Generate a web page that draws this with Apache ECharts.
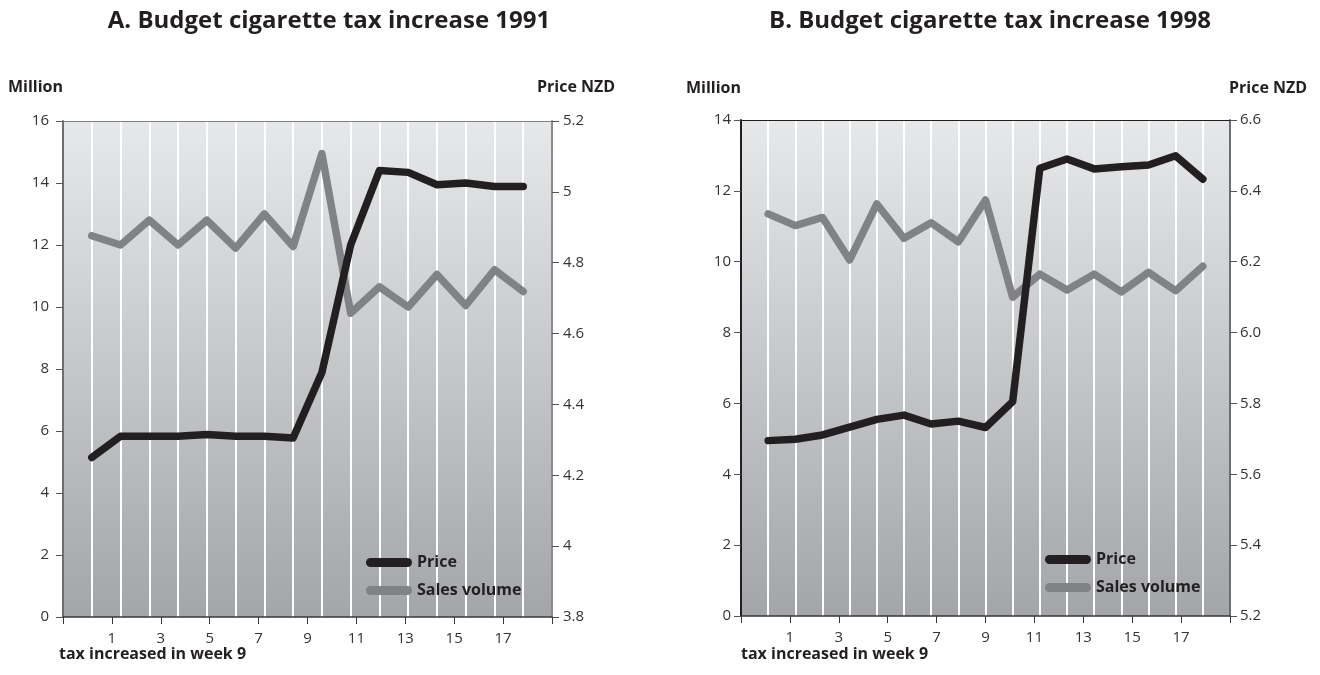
<!DOCTYPE html>
<html>
<head>
<meta charset="utf-8">
<script src="https://cdn.jsdelivr.net/npm/echarts@6/dist/echarts.min.js"></script>
<style>
html,body{margin:0;padding:0;background:#fff;}
#main{width:1320px;height:675px;}
</style>
</head>
<body>
<div id="main"></div>
<script>
// ---- Data ----
// Panel A: 1991 (16 weekly observations, plotted on the vertical grid lines)
const pointsA = [1,2,3,4,5,6,7,8,9,10,11,12,13,14,15,16];
const salesA  = [12.3, 12.0, 12.8, 12.0, 12.8, 11.9, 13.0, 11.95, 14.95, 9.8, 10.65, 10.0, 11.05, 10.05, 11.2, 10.5];
const priceA  = [4.25, 4.31, 4.31, 4.31, 4.315, 4.31, 4.31, 4.305, 4.49, 4.85, 5.06, 5.055, 5.02, 5.025, 5.015, 5.015];

// Panel B: 1998 (17 weekly observations)
const pointsB = [1,2,3,4,5,6,7,8,9,10,11,12,13,14,15,16,17];
const salesB  = [11.35, 11.02, 11.25, 10.05, 11.63, 10.66, 11.1, 10.56, 11.74, 9.0, 9.65, 9.2, 9.65, 9.15, 9.7, 9.18, 9.87];
const priceB  = [5.695, 5.699, 5.711, 5.733, 5.755, 5.767, 5.742, 5.75, 5.732, 5.805, 6.464, 6.49, 6.462, 6.468, 6.473, 6.499, 6.433];

// Week axis tick labels (odd weeks)
const weekTickLabels = [1,3,5,7,9,11,13,15,17];

const titleA = 'A. Budget cigarette tax increase 1991';
const titleB = 'B. Budget cigarette tax increase 1998';
const leftAxisName = 'Million';
const rightAxisName = 'Price NZD';
const footNote = 'tax increased in week 9';
const seriesNames = ['Price', 'Sales volume'];

// ---- Chart ----
const FONT = '"Open Sans", "Noto Sans", sans-serif';
const TXT = '#231f20';
const chart = echarts.init(document.getElementById('main'));

function pairs(xs, ys){ return xs.map((x,i)=>[x, ys[i]]); }
function bg(){
  return new echarts.graphic.LinearGradient(0,0,0,1,[
    {offset:0,color:'#e7e8ea'},{offset:1,color:'#a4a5a8'}]);
}
const pill = 'path://M4.5 0H41.5A4.5 4.5 0 0 1 41.5 9H4.5A4.5 4.5 0 0 1 4.5 0Z';

function weekAxis(gridIndex){
  return {
    gridIndex, type:'value', position:'bottom', min:-1, max:19, interval:2,
    axisLine:{show:true, onZero:false, lineStyle:{color:'#3a3a3a', width:1.5}},
    axisTick:{show:true, length:7, lineStyle:{color:'#3a3a3a', width:1}},
    axisLabel:{margin:14, fontSize:15, color:'#333', fontFamily:FONT,
      formatter:v => weekTickLabels.indexOf(Math.round(v)) >= 0 ? String(Math.round(v)) : ''},
    splitLine:{show:false}
  };
}
function bandAxis(gridIndex, n, topColor){
  return {
    gridIndex, type:'value', position:'top', min:0, max:n, interval:1,
    axisLine:{show:true, onZero:false, lineStyle:{color:topColor, width:1}},
    axisTick:{show:false}, axisLabel:{show:false},
    splitLine:{show:true, showMinLine:false, showMaxLine:false, lineStyle:{color:'#ffffff', width:2}}
  };
}
function yAx(gridIndex, pos, min, max, interval, lineColor, margin, fmt){
  return {
    gridIndex, type:'value', position:pos, min, max, interval,
    axisLine:{show:true, onZero:false, lineStyle:{color:lineColor, width:2}},
    axisTick:{show:true, length:7, lineStyle:{color:'#555', width:1}},
    axisLabel:{margin, fontSize:15, color:'#333', fontFamily:FONT, formatter:fmt},
    splitLine:{show:false}
  };
}
function lineSeries(name, xi, yi, data, color){
  return {
    name, type:'line', xAxisIndex:xi, yAxisIndex:yi, data,
    symbol:'none', color, z:name==='Price'?4:3,
    lineStyle:{color, width:7.5, cap:'round', join:'round'},
    itemStyle:{color}
  };
}
function legendAt(left, top){
  return {
    data:seriesNames, orient:'vertical', left, top, icon:pill,
    itemWidth:46, itemHeight:9, itemGap:9, selectedMode:false,
    itemStyle:{borderWidth:0}, lineStyle:{width:0},
    textStyle:{fontSize:16, fontWeight:'bold', color:TXT, fontFamily:FONT, lineHeight:19}
  };
}
function txt(text, x, y, size, align){
  return {type:'text', x, y, silent:true, style:{
    text, fill:TXT, font:'bold '+size+'px '+FONT,
    textAlign:align, textVerticalAlign:'middle', align, verticalAlign:'middle'}};
}

const option = {
  animation:false,
  backgroundColor:'#ffffff',
  grid:[
    {left:63, top:121, width:489, height:496, show:true, backgroundColor:bg(), borderWidth:0},
    {left:741, top:120, width:489, height:496, show:true, backgroundColor:bg(), borderWidth:0}
  ],
  xAxis:[
    weekAxis(0),
    bandAxis(0, pointsA.length + 1, '#7f8083'),
    weekAxis(1),
    bandAxis(1, pointsB.length + 1, '#231f20')
  ],
  yAxis:[
    yAx(0,'left',0,16,2,'#6d6e71',14, v=>String(v)),
    yAx(0,'right',3.8,5.2,0.2,'#8a8b8e',11, v=>String(parseFloat(v.toFixed(1)))),
    yAx(1,'left',0,14,2,'#231f20',10, v=>String(v)),
    yAx(1,'right',5.2,6.6,0.2,'#6d6e71',10, v=>v.toFixed(1))
  ],
  legend:[ legendAt(361, 548), legendAt(1040, 545) ],
  series:[
    lineSeries('Sales volume', 1, 0, pairs(pointsA, salesA), '#818285'),
    lineSeries('Price', 1, 1, pairs(pointsA, priceA), '#231f20'),
    lineSeries('Sales volume', 3, 2, pairs(pointsB, salesB), '#818285'),
    lineSeries('Price', 3, 3, pairs(pointsB, priceB), '#231f20')
  ],
  graphic:[
    txt(titleA, 329, 21, 24, 'center'),
    txt(titleB, 990, 21, 24, 'center'),
    txt(leftAxisName, 8, 87, 16, 'left'),
    txt(rightAxisName, 537, 87, 16, 'left'),
    txt(leftAxisName, 686, 88, 16, 'left'),
    txt(rightAxisName, 1229, 88, 16, 'left'),
    txt(footNote, 59, 654, 16, 'left'),
    txt(footNote, 741, 654, 16, 'left')
  ]
};
chart.setOption(option);
</script>
</body>
</html>
